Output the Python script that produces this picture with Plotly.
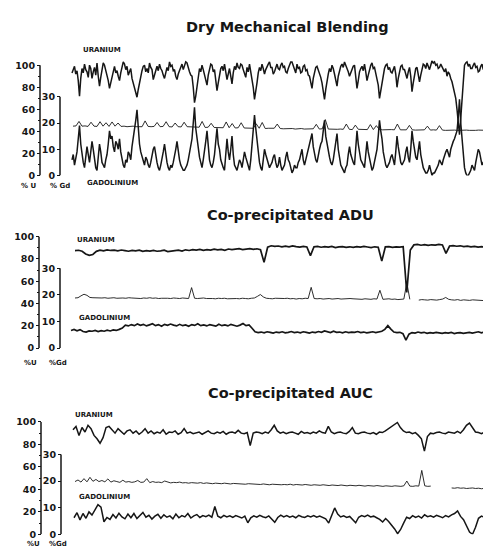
import numpy as np
import plotly.graph_objects as go

W, H = 491, 548

# ---------------- data ----------------
titles = ["Dry Mechanical Blending", "Co-precipitated ADU", "Co-precipitated AUC"]
u_ticks = [0, 20, 40, 60, 80, 100]
gd_ticks = [0, 10, 20, 30]

# Panel 1 - Dry Mechanical Blending
dmb_uranium = [93, 97, 99, 92, 95, 86, 72, 88, 97, 93, 101, 96, 94, 89, 100, 97, 88, 94, 98, 91,
               102, 90, 81, 89, 97, 102, 100, 95, 93, 86, 79, 84, 90, 96, 99, 93, 95, 90, 86, 93,
               97, 103, 101, 96, 99, 91, 94, 97, 88, 83, 79, 76, 71, 78, 84, 92, 95, 99, 100, 94,
               97, 93, 102, 98, 96, 87, 91, 96, 99, 95, 101, 97, 95, 91, 88, 93, 98, 95, 103, 99,
               100, 95, 96, 90, 87, 92, 95, 99, 101, 96, 99, 103, 102, 97, 94, 91, 90, 80, 66, 72,
               80, 91, 97, 94, 100, 96, 92, 88, 82, 91, 97, 101, 100, 94, 96, 86, 77, 84, 92, 97,
               99, 95, 101, 94, 87, 92, 97, 90, 83, 93, 99, 96, 102, 98, 97, 101, 100, 96, 93, 89,
               98, 94, 101, 95, 88, 80, 69, 75, 84, 93, 98, 95, 101, 97, 92, 96, 99, 101, 103, 98,
               98, 92, 94, 99, 101, 97, 96, 100, 102, 98, 99, 94, 93, 97, 100, 103, 103, 99, 97, 93,
               101, 97, 98, 93, 94, 99, 100, 95, 96, 91, 90, 85, 79, 88, 95, 98, 99, 96, 92, 89,
               84, 76, 69, 78, 86, 92, 97, 94, 100, 97, 92, 87, 81, 90, 96, 99, 101, 98, 103, 100,
               98, 94, 90, 93, 96, 99, 100, 91, 79, 86, 94, 97, 99, 95, 101, 94, 86, 91, 97, 100,
               102, 97, 98, 93, 90, 82, 70, 77, 84, 92, 97, 100, 101, 96, 98, 94, 93, 96, 99, 92,
               80, 88, 95, 99, 100, 96, 96, 92, 88, 94, 98, 90, 76, 84, 92, 97, 98, 93, 85, 91,
               97, 101, 100, 97, 102, 99, 96, 100, 104, 102, 103, 100, 101, 97, 98, 101, 99, 96, 94, 97,
               90, 94, 92, 88, 85, 80, 75, 70, 60, 45, 37, 52, 72, 88, 100, 102, 103, 99, 101, 97,
               97, 100, 102, 98, 99, 94, 95, 99, 101, 96, 98, 101, 103, 99, 96, 92, 100, 97, 93, 89,
               87, 90, 92]
dmb_gadolinium = [6, 8, 4, 6, 9, 14, 19, 12, 8, 5, 3, 7, 11, 8, 5, 9, 13, 10, 6, 3,
                  2, 7, 12, 9, 5, 4, 3, 6, 8, 12, 17, 14, 15, 11, 9, 13, 12, 10, 14, 9,
                  6, 4, 3, 6, 5, 9, 8, 6, 11, 14, 18, 21, 25, 17, 12, 9, 7, 5, 4, 7,
                  6, 4, 3, 5, 8, 10, 11, 7, 5, 3, 2, 4, 6, 9, 12, 8, 5, 3, 2, 4,
                  3, 5, 7, 10, 13, 8, 6, 4, 3, 2, 2, 3, 4, 6, 9, 11, 14, 20, 26, 18,
                  14, 9, 7, 5, 3, 6, 9, 13, 17, 10, 6, 4, 3, 5, 8, 13, 18, 12, 10, 6,
                  4, 3, 2, 8, 14, 9, 6, 10, 15, 8, 4, 3, 2, 4, 6, 5, 3, 6, 9, 7,
                  5, 3, 2, 6, 12, 17, 23, 18, 13, 8, 5, 3, 2, 6, 10, 8, 6, 4, 3, 4,
                  5, 7, 8, 5, 3, 4, 7, 4, 2, 3, 4, 7, 9, 6, 5, 3, 1, 2, 4, 3,
                  3, 5, 6, 8, 10, 6, 4, 6, 8, 10, 12, 14, 16, 11, 8, 6, 5, 8, 10, 12,
                  13, 17, 21, 15, 12, 9, 7, 5, 4, 6, 9, 12, 16, 10, 7, 4, 3, 2, 1, 3,
                  4, 8, 11, 8, 6, 5, 4, 10, 17, 12, 9, 6, 5, 4, 3, 8, 13, 9, 7, 4,
                  2, 3, 5, 7, 10, 15, 21, 17, 14, 9, 6, 4, 3, 4, 5, 7, 8, 6, 4, 9,
                  15, 11, 8, 5, 4, 5, 6, 9, 11, 7, 5, 10, 17, 13, 10, 7, 6, 9, 13, 8,
                  5, 3, 2, 1, 1, 2, 4, 2, 0, 1, 1, 2, 3, 4, 6, 5, 4, 6, 8, 9,
                  10, 8, 7, 10, 12, 13, 14, 16, 17, 22, 29, 20, 13, 6, 3, 1, 0, 0, 1, 2,
                  4, 3, 2, 5, 7, 10, 9, 6, 4, 5, 6, 3, 2, 5, 8, 6, 5, 8, 11, 9,
                  12, 8, 6]
dmb_middle = [18.8, 18.9, 20.6, 18.8, 18.9, 18.7, 20.3, 18.8, 18.7, 20.5,
              18.8, 20.1, 18.7, 20.4, 18.8, 20.0, 18.7, 18.8, 18.6, 18.7,
              18.8, 18.6, 18.7, 18.6, 20.8, 18.7, 18.6, 18.7, 20.2, 18.6,
              18.7, 20.5, 18.6, 18.5, 20.0, 18.6, 18.5, 20.3, 18.6, 18.5,
              18.4, 18.5, 18.4, 20.6, 18.3, 18.4, 19.9, 18.3, 18.2, 18.3,
              18.2, 20.4, 18.2, 19.8, 18.1, 18.2, 20.1, 18.1, 18.0, 18.1,
              18.0, 19.7, 18.0, 20.2, 17.9, 18.0, 17.9, 18.0, 19.6, 17.9,
              17.8, 17.9, 17.8, 17.9, 17.7, 17.8, 17.9, 17.7, 17.8, 17.7,
              17.8, 19.5, 17.7, 17.8, 21.3, 17.7, 17.6, 17.7, 17.6, 17.7,
              17.6, 19.6, 17.6, 17.5, 19.2, 17.6, 17.5, 17.6, 17.5, 19.4,
              17.5, 19.0, 17.5, 17.4, 17.5, 17.4, 17.5, 17.4, 19.6, 17.4,
              17.5, 17.4, 19.1, 17.4, 17.3, 17.4, 17.3, 17.4, 18.8, 17.3,
              17.4, 17.3, 19.0, 17.3, 17.2, 17.3, 17.2, 17.3, 17.2, 17.3,
              17.2, 17.3, 17.2, 17.1, 17.2, 17.3, 17.2, 17.1, 17.2, 17.3,
              18.6, 17.2, 17.3]

# Panel 2 - Co-precipitated ADU
adu_uranium = [87.5, 87.8, 86.9, 84.5, 83.2, 84.0, 86.8, 87.9, 87.2, 88.1,
               87.6, 87.9, 87.3, 88.0, 87.5, 86.9, 87.7, 87.2, 87.8, 86.8,
               87.4, 87.0, 87.6, 86.9, 87.3, 87.8, 86.6, 87.2, 87.5, 87.9,
               87.1, 88.2, 87.6, 88.4, 87.9, 88.6, 87.7, 88.3, 88.0, 88.8,
               88.1, 88.5, 87.8, 88.9, 88.3, 88.7, 89.2, 88.4, 88.9, 89.3,
               88.6, 89.1, 88.2, 77.0, 90.5, 91.8, 91.2, 91.6, 90.8, 91.4,
               90.9, 91.7, 91.1, 90.6, 91.3, 90.7, 83.0, 90.9, 91.2, 90.5,
               91.0, 90.6, 91.3, 90.2, 90.8, 91.1, 90.4, 90.9, 90.3, 91.0,
               90.6, 91.2, 90.7, 90.2, 90.9, 90.5, 78.0, 90.8, 91.1, 90.4,
               90.9, 90.6, 91.0, 50.0, 88.0, 92.6, 93.0, 92.3, 92.8, 92.1,
               92.7, 92.4, 93.1, 92.5, 85.0, 91.6, 92.0, 91.4, 91.8, 91.1,
               91.5, 90.8, 91.3, 90.6, 91.0, 90.7, 91.2, 90.5, 90.9, 90.6]
adu_gadolinium = [6.6, 7.0, 6.5, 6.9, 6.2, 6.0, 6.4, 6.3, 6.6, 6.2,
                  6.5, 6.3, 6.7, 6.4, 6.8, 6.6, 7.0, 7.5, 8.6, 8.3,
                  8.8, 8.4, 9.0, 8.5, 8.9, 8.3, 8.7, 9.1, 8.4, 8.8,
                  8.2, 8.9, 8.5, 9.0, 8.6, 8.3, 8.9, 8.4, 8.7, 8.2,
                  8.8, 8.5, 9.1, 8.4, 8.7, 8.3, 8.8, 8.5, 8.2, 8.9,
                  8.4, 8.7, 8.3, 8.9, 8.5, 8.2, 8.6, 9.2, 8.4, 8.7,
                  7.4, 6.1, 5.8, 6.0, 5.7, 6.1, 5.9, 5.6, 6.0, 5.8,
                  6.1, 5.7, 5.9, 6.2, 5.8, 6.0, 5.7, 6.1, 5.9, 5.6,
                  6.0, 5.8, 6.2, 5.9, 6.4, 6.1, 5.8, 6.3, 5.9, 6.0,
                  5.7, 6.1, 5.8, 6.0, 5.9, 6.2, 5.8, 6.0, 5.7, 5.9,
                  6.1, 5.8, 6.0, 6.3, 7.0, 8.4, 7.1, 6.0, 5.8, 5.9,
                  5.4, 3.0, 5.2, 5.8, 5.6, 6.0, 5.7, 5.9, 5.5, 5.8,
                  5.6, 5.9, 5.7, 5.5, 5.8, 5.6, 5.9, 5.4, 5.7, 5.8,
                  5.5, 5.7, 5.9, 5.6, 5.8, 6.1, 5.7, 6.0, 6.3, 5.9,
                  6.2, 5.8, 6.4]
adu_middle = [18.8, 18.9, 19.6, 20.2, 19.8, 19.0, 18.9, 18.8, 18.9, 18.8,
              18.9, 18.7, 18.8, 18.9, 18.7, 18.8, 18.8, 18.7, 18.9, 18.8,
              18.7, 18.8, 18.6, 18.8, 18.7, 18.9, 18.7, 18.8, 18.6, 18.7,
              18.8, 18.7, 18.6, 18.8, 18.7, 18.6, 18.8, 18.7, 18.6, 22.7,
              18.7, 18.6, 18.7, 18.8, 18.6, 18.7, 18.6, 18.5, 18.7, 18.6,
              18.7, 18.5, 18.6, 18.7, 18.6, 18.5, 18.7, 18.6, 18.5, 18.7,
              18.8, 19.4, 20.1, 19.2, 18.7, 18.6, 18.5, 18.7, 18.6, 18.5,
              18.6, 18.7, 18.5, 18.6, 18.4, 18.6, 18.5, 18.7, 18.6, 22.8,
              18.6, 18.5, 18.6, 18.4, 18.5, 18.6, 18.4, 18.5, 18.6, 18.4,
              18.5, 18.4, 18.6, 18.5, 18.4, 18.5, 18.3, 18.5, 18.4, 18.3,
              18.5, 18.4, 21.7, 18.3, 18.4, 18.5, 18.3, 18.4, 18.2, 18.3,
              18.4, 24.5, 18.3, None, None, 18.0, 18.2, 18.1, 18.0, 18.2,
              18.1, 18.0, 18.2, 18.4, 19.0, 18.3, 18.1, 18.0, 18.2, 17.9,
              18.1, 18.0, 17.9, 18.1, 18.0, 17.9, 18.0, 17.8, 18.0, 17.9,
              17.8, 18.0, 17.9]

# Panel 3 - Co-precipitated AUC
auc_uranium = [93, 96, 88, 95, 91, 97, 94, 88, 85, 81,
               86, 95, 96, 93, 90, 94, 91, 89, 92, 93,
               90, 92, 89, 91, 94, 90, 92, 89.5, 91, 90,
               93, 89, 91, 90.5, 92, 89, 90.5, 94, 90, 91,
               89.5, 90.5, 91, 89, 90.5, 92, 90, 89.5, 91, 90,
               91.5, 89, 90.5, 91, 90, 92.5, 90, 89.5, 90.5, 79,
               90, 91, 90.5, 89.5, 91, 90, 93, 97, 92, 90,
               91, 89.5, 90.5, 91, 90, 89, 91.5, 90, 90.5, 89.5,
               91, 90, 92, 90.5, 90, 96, 91, 89.5, 90.5, 91,
               90, 89.5, 91.5, 95, 90, 89.5, 90.5, 91, 90, 89.5,
               90.5, 89, 91, 90.5, 92, 94, 96, 98, 99.5, 95,
               92, 90.5, 91, 89.5, 90.5, 88, 85, 74, 87, 90,
               89.5, 90.5, 91, 90, 89.5, 91, 90.5, 90, 91.5, 90,
               93, 97, 99, 95, 91, 90.5, 89.5, 91, 90, 91.5,
               89, 85, 90]
auc_gadolinium = [6.2, 8.1, 5.4, 7.8, 6.0, 8.4, 7.2, 9.0, 11.1, 10.2,
                  4.7, 6.3, 5.6, 7.4, 6.1, 7.9, 6.5, 5.8, 7.6, 6.2,
                  7.8, 5.9, 6.9, 8.2, 6.4, 7.1, 5.7, 6.8, 7.5, 6.0,
                  7.3, 6.4, 6.9, 5.8, 7.6, 6.2, 7.0, 6.5, 7.8, 6.1,
                  6.9, 7.4, 6.3, 7.0, 6.6, 7.2, 6.4, 10.4, 6.8, 6.2,
                  7.1, 6.5, 6.9, 6.3, 7.0, 6.6, 6.1, 6.8, 4.3, 6.2,
                  6.9, 6.4, 7.1, 6.6, 6.2, 6.9, 5.8, 4.5, 6.3, 7.2,
                  6.5, 7.0, 6.4, 6.8, 6.2, 7.1, 6.6, 6.3, 6.9, 6.5,
                  7.0, 6.4, 6.8, 6.2, 5.8, 4.2, 7.1, 9.9, 7.6, 6.5,
                  6.9, 6.3, 6.7, 5.5, 4.3, 6.4, 7.0, 6.6, 7.2, 6.5,
                  6.8, 6.2, 5.6, 4.6, 5.9, 4.8, 3.5, 2.0, 0.2, 1.8,
                  4.2, 6.4, 5.9, 7.0, 6.3, 6.8, 6.1, 7.3, 6.6, 6.9,
                  6.4, 7.1, 6.7, 6.2, 7.0, 6.5, 7.3, 7.8, 8.8, 6.7,
                  5.5, 3.0, 0.8, 0.0, 2.6, 6.0, 6.8, 6.4, 7.1, 6.5,
                  5.6, 6.9, 7.4]
auc_middle = [19.8, 20.4, 19.6, 20.9, 19.7, 21.4, 19.9, 20.6, 19.8, 20.2,
              19.7, 20.8, 19.6, 20.1, 19.8, 19.5, 20.3, 19.6, 19.8, 19.5,
              19.7, 20.2, 19.5, 19.6, 20.9, 19.4, 19.8, 19.5, 19.6, 19.4,
              20.0, 19.5, 19.3, 19.5, 19.4, 19.6, 19.3, 19.4, 19.2, 19.4,
              19.3, 19.2, 19.4, 19.1, 19.3, 19.2, 19.0, 19.2, 19.1, 19.0,
              19.2, 19.0, 18.9, 19.1, 19.0, 18.9, 19.0, 18.8, 19.0, 18.9,
              18.8, 18.9, 18.7, 18.9, 18.8, 18.6, 18.8, 18.7, 18.8, 18.6,
              18.7, 18.6, 18.8, 18.5, 18.7, 18.6, 18.5, 18.7, 18.6, 18.4,
              18.6, 18.5, 18.4, 18.6, 18.5, 18.3, 18.5, 18.4, 18.3, 18.5,
              18.4, 18.2, 18.4, 18.3, 18.2, 18.4, 18.3, 18.1, 18.3, 18.2,
              18.1, 18.3, 18.2, 18.0, 18.2, 18.1, 18.0, 18.2, 18.1, 18.0,
              18.2, 20.0, 18.1, 18.0, 18.2, 18.1, 24.0, 18.2, 18.0, 18.1,
              None, None, None, None, None, None, 17.4, 17.3, 17.5, 17.3,
              17.4, 17.2, 17.3, 17.4, 17.2, 17.3, 17.1, 17.3, 17.2, 17.3,
              17.1, 17.2, 17.3]

# chart position (mm along the recorder strip) where each trace starts
chart_len = 431
starts = {"dmb_u": 4, "dmb_gd": 4, "dmb_mid": 5,
          "adu_u": 7, "adu_gd": 3, "adu_mid": 7,
          "auc_u": 5, "auc_gd": 6, "auc_mid": 7}

# ---------------- layout geometry ----------------
INK = "#161616"
FONT = "DejaVu Sans"


def px_x(p):
    return p / W


def px_y(p):
    return 1 - p / H


panels = [
    dict(ux=32, gx=52, bot=167, top=50, uscale=1.12, gscale=80 / 30,
         title_y=16, ura=(94, 39.5), gad=(104, 175), pu=(20, 178), pg=(52, 178),
         pu_t="% U", pg_t="% Gd", lw=1.5),
    dict(ux=31, gx=52, bot=342, top=225, uscale=1.13, gscale=81 / 30,
         title_y=207, ura=(87.5, 232.5), gad=(96, 311.5), pu=(22, 357), pg=(50, 357),
         pu_t="%U", pg_t="%Gd", lw=1.7),
    dict(ux=33, gx=53, bot=531, top=414, uscale=1.14, gscale=81 / 30,
         title_y=387.5, ura=(86, 409.5), gad=(96, 493), pu=(25, 540.5), pg=(50, 540.5),
         pu_t="%U", pg_t="%Gd", lw=1.5),
]
title_x = [279, 282, 282]

series = [
    (dmb_uranium, dmb_gadolinium, dmb_middle, "dmb"),
    (adu_uranium, adu_gadolinium, adu_middle, "adu"),
    (auc_uranium, auc_gadolinium, auc_middle, "auc"),
]

fig = go.Figure()
layout = dict(width=W, height=H, margin=dict(l=0, r=0, t=0, b=0),
              paper_bgcolor="white", plot_bgcolor="rgba(0,0,0,0)",
              showlegend=False)
shapes = []
annotations = []

for k, (pan, (u_vals, g_vals, m_vals, key)) in enumerate(zip(panels, series)):
    xa = "x" if k == 0 else f"x{k + 1}"
    ya_u = "y" if k == 0 else f"y{2 * k + 1}"
    ya_g = f"y{2 * k + 2}"
    xa_name = "xaxis" if k == 0 else f"xaxis{k + 1}"
    yu_name = "yaxis" if k == 0 else f"yaxis{2 * k + 1}"
    yg_name = f"yaxis{2 * k + 2}"

    dom = [px_y(pan["bot"]), px_y(pan["top"])]
    height_px = pan["bot"] - pan["top"]
    u_top = height_px / pan["uscale"]
    g_top = height_px / pan["gscale"]

    layout[xa_name] = dict(domain=[px_x(60), 1], range=[0, chart_len], visible=False,
                           anchor=ya_u, fixedrange=True)
    tick_common = dict(ticks="outside", ticklen=3, tickwidth=1.2, tickcolor=INK,
                       showgrid=False, zeroline=False, showline=False,
                       tickfont=dict(family=FONT, size=9.5, color=INK, weight="bold"),
                       anchor="free", fixedrange=True)
    layout[yu_name] = dict(domain=dom, range=[0, u_top], tickvals=u_ticks,
                           position=px_x(pan["ux"]),
                           minor=dict(tickvals=[10, 30, 50, 70, 90], ticklen=2,
                                      ticks="outside", tickcolor=INK, tickwidth=1),
                           **tick_common)
    layout[yg_name] = dict(range=[0, g_top], tickvals=gd_ticks, overlaying=ya_u,
                           position=px_x(pan["gx"]), side="left", **tick_common)

    # axis spines (only over the labelled span)
    shapes.append(dict(type="line", xref="paper", yref=ya_u, x0=px_x(pan["ux"]),
                       x1=px_x(pan["ux"]), y0=0, y1=100, line=dict(color=INK, width=1.5)))
    shapes.append(dict(type="line", xref="paper", yref=ya_g, x0=px_x(pan["gx"]),
                       x1=px_x(pan["gx"]), y0=0, y1=30, line=dict(color=INK, width=1.5)))

    def xs(vals, name):
        return np.linspace(starts[name], chart_len + 0.5, len(vals))

    fig.add_trace(go.Scatter(x=xs(m_vals, key + "_mid"), y=m_vals, xaxis=xa, yaxis=ya_g,
                             mode="lines", line=dict(color=INK, width=0.9),
                             connectgaps=False, hoverinfo="skip"))
    fig.add_trace(go.Scatter(x=xs(g_vals, key + "_gd"), y=g_vals, xaxis=xa, yaxis=ya_g,
                             mode="lines", line=dict(color=INK, width=pan["lw"]),
                             hoverinfo="skip"))
    fig.add_trace(go.Scatter(x=xs(u_vals, key + "_u"), y=u_vals, xaxis=xa, yaxis=ya_u,
                             mode="lines", line=dict(color=INK, width=pan["lw"]),
                             hoverinfo="skip"))

    def ann(text, pos, size):
        annotations.append(dict(text=text, x=px_x(pos[0]), y=px_y(pos[1]), xref="paper",
                                yref="paper", showarrow=False, xanchor="center",
                                yanchor="middle", borderpad=0,
                                font=dict(family=FONT, size=size, color=INK)))

    ann(f"<b>{titles[k]}</b>", (title_x[k], pan["title_y"]), 14.5)
    ann("<b>URANIUM</b>", pan["ura"], 7)
    ann("<b>GADOLINIUM</b>", pan["gad"], 7)
    ann(f"<b>{pan['pu_t']}</b>", pan["pu"], 7)
    ann(f"<b>{pan['pg_t']}</b>", pan["pg"], 7)

layout["shapes"] = shapes
layout["annotations"] = annotations
fig.update_layout(**layout)
fig.write_html("out.html")
